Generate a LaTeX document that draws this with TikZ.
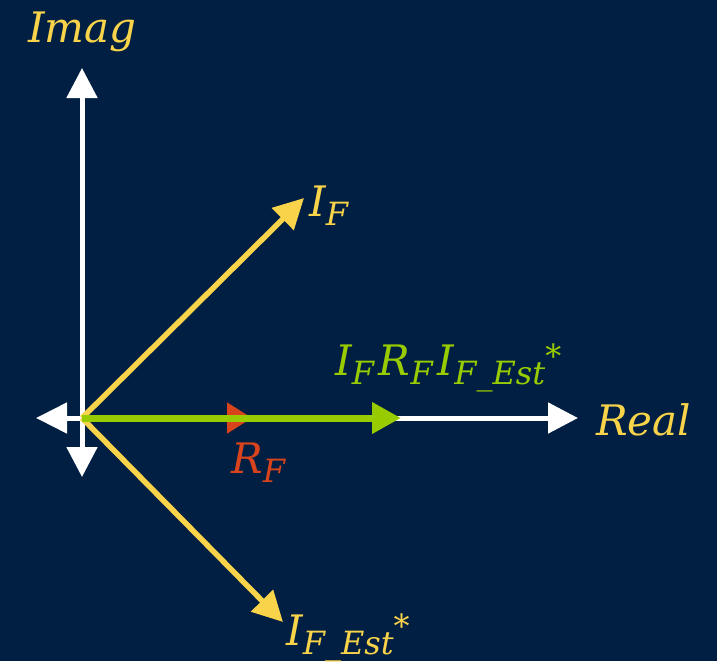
\documentclass[tikz,border=0pt]{standalone}
\usepackage{fontspec}
\setmainfont{DejaVu Serif}
\usetikzlibrary{arrows.meta}
\definecolor{bgnavy}{HTML}{001F42}
\definecolor{phyellow}{HTML}{F9D44A}
\definecolor{phgreen}{HTML}{99CC00}
\definecolor{phred}{HTML}{D9441C}
\newcommand\mysb[1]{\raisebox{-9pt}{\fontsize{32}{32}\selectfont #1}\kern5pt}
\newcommand\mysbe[1]{\raisebox{-9pt}{\fontsize{32}{32}\selectfont #1}}
\newcommand\mystar{\raisebox{8pt}{\fontsize{32}{32}\selectfont *}}
\begin{document}
\begin{tikzpicture}[x=1pt,y=-1pt,
  lbl/.style={anchor=base west,inner sep=0pt,font=\fontsize{42}{42}\selectfont\itshape},
  tip/.style={-{Triangle[length=30pt,width=30pt]}},
  axis/.style={white,line width=5pt},
  vec/.style={line width=5.5pt}]
\fill[bgnavy] (0,0) rectangle (717,661);
\useasboundingbox (0,0) rectangle (717,661);
\coordinate (O) at (82,418);
\coordinate (up) at (82,68);
\coordinate (down) at (82,477);
\coordinate (left) at (36,418);
\coordinate (right) at (578,418);
\coordinate (IF) at (304,198);
\coordinate (IE) at (283,622);
\coordinate (RF) at (252,418);
\coordinate (P) at (401,418);
% axes
\draw[axis,{Triangle[length=30pt,width=30pt]}-{Triangle[length=30pt,width=30pt]}] (down) -- (up);
\draw[axis,{Triangle[length=31pt,width=30pt]}-{Triangle[length=30pt,width=30pt]}] (left) -- (right);
% vectors
\draw[vec,phyellow,tip] (O) -- (IF);
\draw[vec,phyellow,tip] (O) -- (IE);
\draw[line width=5pt,phred,-{Triangle[length=25pt,width=30pt]}] (O) -- (RF);
\draw[line width=7pt,phgreen,-{Triangle[length=29pt,width=30pt]}] (O) -- (P);
% labels
\node[lbl,phyellow] (limag) at (28,43) {Imag};
\node[lbl,phyellow] (lreal) at (596,435) {Real};
\node[lbl,phyellow] (lif) at (309,216) {I\mysbe{F}};
\node[lbl,phred] (lrf) at (231,473) {R\mysbe{F}};
\node[lbl,phgreen] (lprod) at (335,375) {I\mysb{F}R\mysb{F}I\mysbe{F\_Est}\mystar};
\node[lbl,phyellow] (lie) at (286,645) {I\mysbe{F\_Est}\mystar};
\end{tikzpicture}
\end{document}
